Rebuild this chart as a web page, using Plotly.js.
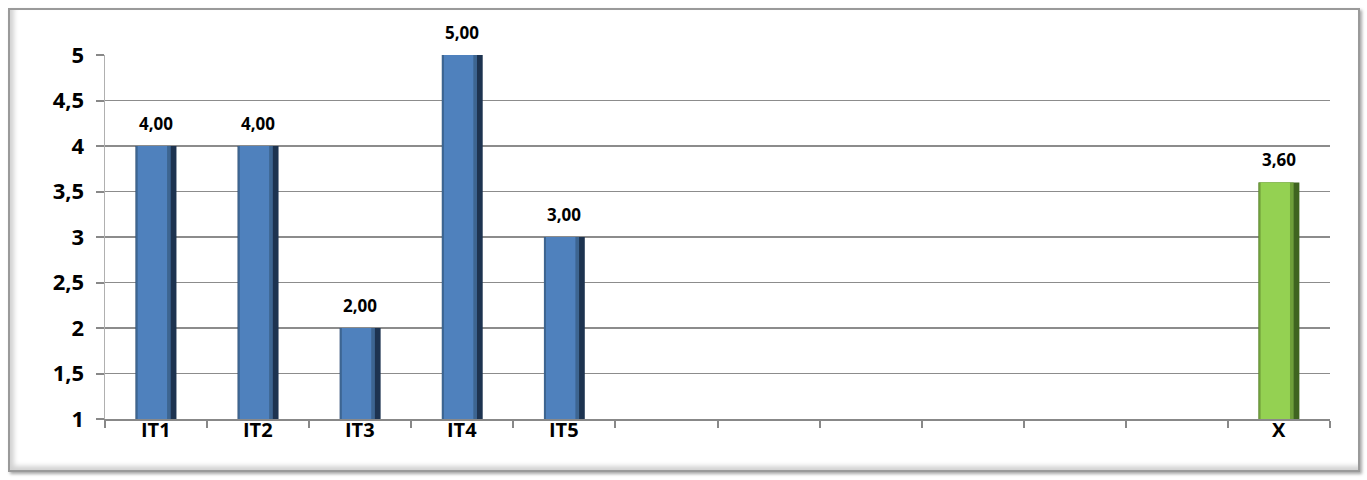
<!DOCTYPE html>
<html>
<head>
<meta charset="utf-8">
<script src="https://cdn.plot.ly/plotly-3.0.1.min.js"></script>
<style>
  html, body { margin: 0; padding: 0; background: #ffffff; }
  #frame {
    position: absolute; left: 8px; top: 8px;
    width: 1348px; height: 460px;
    border: 2px solid #9a9a9a;
    box-shadow: inset 4px -4px 5px rgba(0,0,0,0.18), 2px 2px 3px rgba(0,0,0,0.35);
    background: #ffffff;
  }
  #chart { width: 1348px; height: 460px; }
</style>
</head>
<body>
<div id="frame"><div id="chart"></div></div>
<script>
// ---- data ----
var categories = ['IT1', 'IT2', 'IT3', 'IT4', 'IT5', '', '', '', '', '', '', 'X'];
var values     = [4, 4, 2, 5, 3, 0, 0, 0, 0, 0, 0, 3.6];
var isAverage  = [false, false, false, false, false, false, false, false, false, false, false, true];
var yTicks     = [1, 1.5, 2, 2.5, 3, 3.5, 4, 4.5, 5];

// ---- styles ----
var FONT = '"Open Sans", Lato, sans-serif';
var positions = categories.map(function (_, i) { return i; });
var mainCol = isAverage.map(function (a) { return a ? '#94d152' : '#4f81bd'; });
var edgeCol = isAverage.map(function (a) { return a ? '#3f6420' : '#1d3350'; });
var leftCol = isAverage.map(function (a) { return a ? '#6f9f3a' : '#3d6591'; });

var W = 0.40;
var traces = [
  { type: 'bar', x: positions, y: values, width: W, offset: -W / 2,
    marker: { color: edgeCol, line: { width: 0 } }, hoverinfo: 'skip' },
  { type: 'bar', x: positions, y: values, width: W * 0.86, offset: -W / 2,
    marker: { color: leftCol, line: { width: 0 } }, hoverinfo: 'skip' },
  { type: 'bar', x: positions, y: values, width: W * 0.72, offset: -W / 2 + W * 0.05,
    marker: { color: mainCol, line: { width: 0 } }, hoverinfo: 'skip' }
];

var fmt = function (v) { return v.toFixed(2).replace('.', ','); };
var annotations = [];
values.forEach(function (v, i) {
  if (categories[i] !== '' && v) {
    annotations.push({
      x: positions[i], y: v, xref: 'x', yref: 'y',
      text: '<b>' + fmt(v) + '</b>', showarrow: false, yanchor: 'bottom', yshift: 9,
      font: { family: FONT, size: 17, color: '#000' }
    });
  }
});
// category labels under the axis
categories.forEach(function (c, i) {
  if (c) {
    annotations.push({
      x: positions[i], y: 0, xref: 'x', yref: 'paper',
      text: '<b>' + c + '</b>', showarrow: false, yanchor: 'top', yshift: 5,
      font: { family: FONT, size: 20, color: '#000' }
    });
  }
});

var layout = {
  width: 1348, height: 460,
  margin: { l: 95, r: 28, t: 45, b: 51 },
  paper_bgcolor: 'rgba(0,0,0,0)', plot_bgcolor: '#ffffff',
  barmode: 'overlay', showlegend: false,
  separators: ',.',
  xaxis: {
    range: [-0.5, categories.length - 0.5],
    tickvals: positions, showticklabels: false,
    ticks: '', showgrid: false, zeroline: false,
    showline: true, linecolor: '#888888', linewidth: 2,
    minor: { tick0: -0.5, dtick: 1, ticks: 'outside', ticklen: 7, tickcolor: '#888888', tickwidth: 2, showgrid: false },
    fixedrange: true
  },
  yaxis: {
    range: [1, 5], tickvals: yTicks,
    ticktext: yTicks.map(function (t) { return '<b>' + String(t).replace('.', ',') + '</b>'; }),
    ticks: 'outside', ticklen: 8, tickcolor: '#888888', tickwidth: 2,
    showgrid: true, gridcolor: '#8c8c8c', gridwidth: 1.5,
    zeroline: false, showline: true, linecolor: '#b0b0b0', linewidth: 1.5,
    tickfont: { family: FONT, size: 22, color: '#000' },
    ticklabelstandoff: 7,
    fixedrange: true
  },
  annotations: annotations
};

Plotly.newPlot('chart', traces, layout, { staticPlot: true });
</script>
</body>
</html>
